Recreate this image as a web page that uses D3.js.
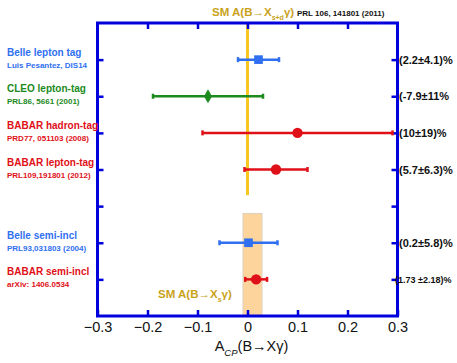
<!DOCTYPE html>
<html>
<head>
<meta charset="utf-8">
<script src="https://cdn.jsdelivr.net/npm/d3@7"></script>
<style>
  body { margin: 0; background: #fff; }
  text { font-family: "Liberation Sans", Arial, sans-serif; }
</style>
</head>
<body>
<script>
// rows from top to bottom; the 5th slot is an empty spacer row
const experiments = ["Belle", "CLEO", "BABAR", "BABAR", "", "Belle", "BABAR"];
const labels = ["Belle lepton tag", "CLEO lepton-tag", "BABAR hadron-tag", "BABAR lepton-tag", "", "Belle semi-incl", "BABAR semi-incl"];
const refs = ["Luis Pesantez, DIS14", "PRL86, 5661 (2001)", "PRD77, 051103 (2008)", "PRL109,191801 (2012)", "", "PRL93,031803 (2004)", "arXiv: 1406.0534"];
const values = [0.022, -0.079, 0.10, 0.057, null, 0.002, 0.0173];
const errors = [0.041, 0.11, 0.19, 0.063, null, 0.058, 0.0218];
const results = ["(2.2±4.1)%", "(-7.9±11%", "(10±19)%", "(5.7±6.3)%", "", "(0.2±5.8)%", "(1.73 ±2.18)%"];
const xTicks = [-0.3, -0.2, -0.1, 0, 0.1, 0.2, 0.3];
const smBand = [-0.009, 0.029];   // SM A(B->Xs gamma)
const smLine = 0;                 // SM A(B->Xs+d gamma)

const colors = {Belle: "#2f6ff0", CLEO: "#1c8a1c", BABAR: "#e01018"};
const symbols = {Belle: d3.symbolSquare, CLEO: d3.symbolDiamond, BABAR: d3.symbolCircle};
const gold = "#c9a21c", axisBlue = "#0000dd";

const width = 457, height = 363;
const pLeft = 97.5, pRight = 397.5, pTop = 23, pBottom = 316;

const svg = d3.select("body").append("svg")
    .attr("width", width)
    .attr("height", height);

const x = d3.scaleLinear().domain([-0.3, 0.3]).range([pLeft, pRight]);
const y = d3.scaleLinear().domain([0, labels.length + 1]).range([pTop, pBottom]);

const rows = labels.map((l, i) => ({
  exp: experiments[i], label: l, ref: refs[i], v: values[i], e: errors[i], res: results[i], pos: i + 1
}));

// SM band (s only)
svg.append("rect")
    .attr("x", x(smBand[0]))
    .attr("y", y(5.2))
    .attr("width", x(smBand[1]) - x(smBand[0]))
    .attr("height", pBottom - y(5.2))
    .attr("fill", "#fdd59c")
    .attr("stroke", "#ddd0c0")
    .attr("stroke-width", 1);

// SM line (s+d)
svg.append("line")
    .attr("x1", x(smLine)).attr("x2", x(smLine))
    .attr("y1", pTop).attr("y2", y(4.7))
    .attr("stroke", "#f8c820")
    .attr("stroke-width", 3);

// axes: ticks inward on all four sides
const tickLen = 6;
svg.append("g")
    .attr("transform", `translate(0,${pBottom})`)
    .call(d3.axisBottom(x).tickValues(xTicks).tickSize(-tickLen).tickPadding(6).tickFormat(d => d === 0 ? "0" : d3.format(".1f")(d)))
    .call(g => g.select(".domain").remove())
    .call(g => g.selectAll("line").attr("stroke", axisBlue).attr("stroke-width", 2.5))
    .call(g => g.selectAll("text").attr("font-size", 14.5).attr("fill", "#111"));

svg.append("g")
    .attr("transform", `translate(0,${pTop})`)
    .call(d3.axisTop(x).tickValues(xTicks.slice(1, -1)).tickSize(-tickLen).tickFormat(""))
    .call(g => g.select(".domain").remove())
    .call(g => g.selectAll("line").attr("stroke", axisBlue).attr("stroke-width", 2.5));

const yTicks = d3.range(1, labels.length + 1);
svg.append("g")
    .attr("transform", `translate(${pLeft},0)`)
    .call(d3.axisLeft(y).tickValues(yTicks).tickSize(-tickLen).tickFormat(""))
    .call(g => g.select(".domain").remove())
    .call(g => g.selectAll("line").attr("stroke", axisBlue).attr("stroke-width", 2.5));

svg.append("g")
    .attr("transform", `translate(${pRight},0)`)
    .call(d3.axisRight(y).tickValues(yTicks).tickSize(-tickLen).tickFormat(""))
    .call(g => g.select(".domain").remove())
    .call(g => g.selectAll("line").attr("stroke", axisBlue).attr("stroke-width", 2.5));

svg.append("rect")
    .attr("x", pLeft).attr("y", pTop)
    .attr("width", pRight - pLeft).attr("height", pBottom - pTop)
    .attr("fill", "none")
    .attr("stroke", axisBlue)
    .attr("stroke-width", 3);

// error bars and markers
const pts = rows.filter(d => d.v !== null);
const g = svg.append("g");
const capH = 2.5;
pts.forEach(d => {
  const c = colors[d.exp];
  const yy = y(d.pos);
  g.append("line")
      .attr("x1", x(d.v - d.e)).attr("x2", x(d.v + d.e))
      .attr("y1", yy).attr("y2", yy)
      .attr("stroke", c).attr("stroke-width", 2.5);
  [d.v - d.e, d.v + d.e].forEach(xe => {
    g.append("line")
        .attr("x1", x(xe)).attr("x2", x(xe))
        .attr("y1", yy - capH).attr("y2", yy + capH)
        .attr("stroke", c).attr("stroke-width", 2.5);
  });
  const size = d.exp === "BABAR" ? 85 : d.exp === "Belle" ? 75 : 55;
  g.append("path")
      .attr("transform", `translate(${x(d.v)},${yy})`)
      .attr("d", d3.symbol().type(symbols[d.exp]).size(size)())
      .attr("fill", c);
});

// left labels
const lab = svg.append("g");
rows.filter(d => d.label).forEach(d => {
  const c = colors[d.exp];
  lab.append("text")
      .attr("x", 7).attr("y", y(d.pos) - 4)
      .attr("font-size", 10).attr("font-weight", "bold")
      .attr("fill", c).text(d.label);
  lab.append("text")
      .attr("x", 7).attr("y", y(d.pos) + 8)
      .attr("font-size", 8).attr("font-weight", "bold")
      .attr("fill", c).text(d.ref);
});

// right result labels
rows.filter(d => d.res).forEach((d, i, arr) => {
  const last = i === arr.length - 1;
  svg.append("text")
      .attr("x", last ? 395 : 399).attr("y", y(d.pos) + 4)
      .attr("font-size", last ? 9 : 11)
      .attr("font-weight", "bold")
      .attr("fill", "#111")
      .text(d.res);
});

// top annotation
const t1 = svg.append("text")
    .attr("x", 212).attr("y", 16)
    .attr("font-size", 11.5).attr("font-weight", "bold").attr("fill", gold);
t1.append("tspan").text("SM A(B→X");
t1.append("tspan").attr("font-size", 7).attr("dy", 4).text("s+d");
t1.append("tspan").attr("dy", -4).text("γ)");
svg.append("text")
    .attr("x", 297).attr("y", 16)
    .attr("font-size", 8).attr("font-weight", "bold").attr("fill", "#111")
    .text("PRL 106, 141801 (2011)");

// bottom annotation
const t2 = svg.append("text")
    .attr("x", 158).attr("y", 298)
    .attr("font-size", 11.5).attr("font-weight", "bold").attr("fill", gold);
t2.append("tspan").text("SM A(B→X");
t2.append("tspan").attr("font-size", 7).attr("dy", 4).text("s");
t2.append("tspan").attr("dy", -4).text("γ)");

// x axis title
const xt = svg.append("text")
    .attr("x", x(0) + 4).attr("y", 351)
    .attr("text-anchor", "middle")
    .attr("font-size", 14.5).attr("fill", "#111");
xt.append("tspan").text("A");
xt.append("tspan").attr("font-size", 9.5).attr("font-style", "italic").attr("dy", 5).text("CP");
xt.append("tspan").attr("dy", -5).text("(B→Xγ)");
</script>
</body>
</html>
